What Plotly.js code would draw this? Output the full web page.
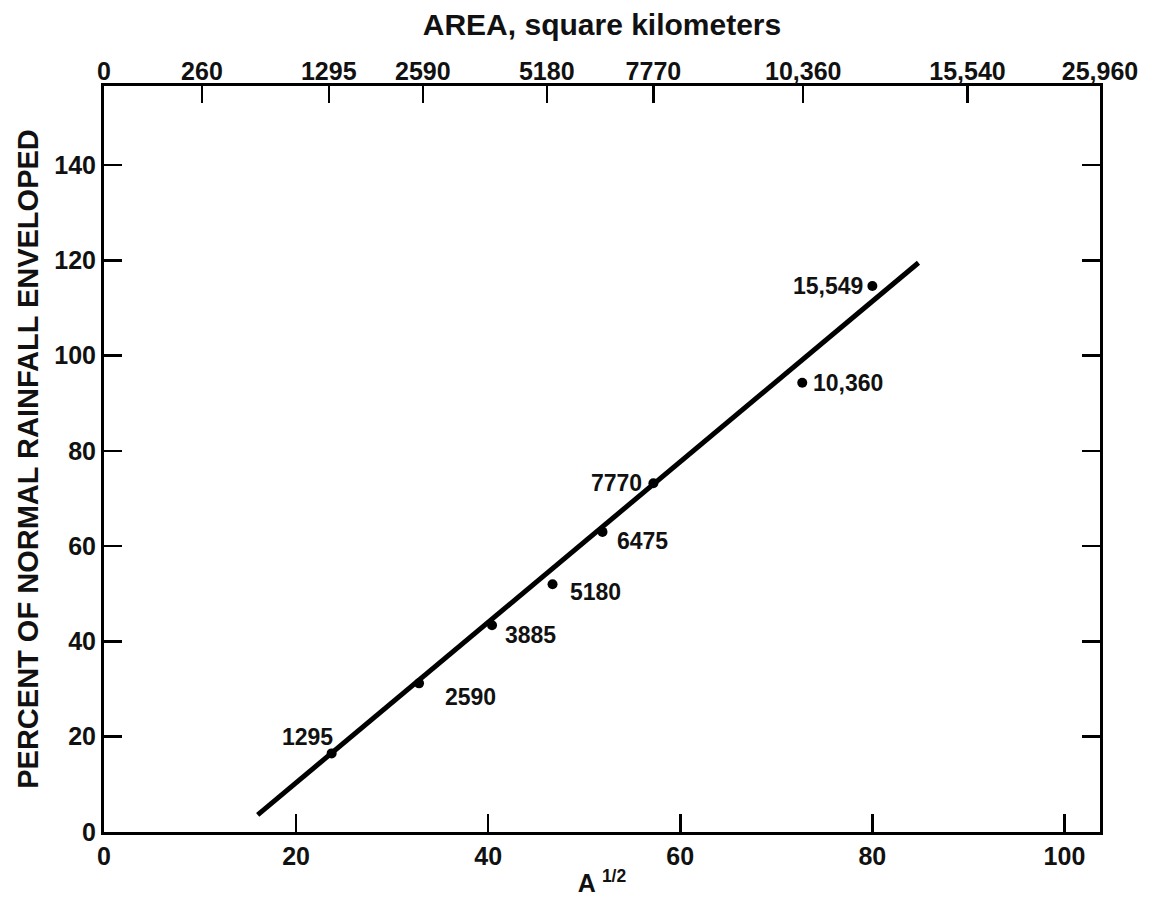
<!DOCTYPE html>
<html>
<head>
<meta charset="utf-8">
<script src="https://cdn.plot.ly/plotly-3.0.1.min.js"></script>
<style>html,body{margin:0;padding:0;background:#fff;}#chart{width:1150px;height:910px;}</style>
</head>
<body>
<div id="chart"></div>
<script>
// ---- data ----
const fitLineX = [16.0, 84.8];
const fitLineY = [3.6, 119.5];
const pointX = [23.7, 32.8, 40.4, 46.7, 51.9, 57.2, 72.7, 80.0];
const pointY = [16.5, 31.2, 43.4, 52.0, 63.0, 73.2, 94.3, 114.6];
const pointLabels = ['1295', '2590', '3885', '5180', '6475', '7770', '10,360', '15,549'];
const topTickVals = [0, 10.2, 23.4, 33.2, 46.1, 57.2, 72.8, 89.9, 103.7];
const topTickText = ['0', '260', '1295', '2590', '5180', '7770', '10,360', '15,540', '25,960'];
const bottomTickVals = [0, 20, 40, 60, 80, 100];
const leftTickVals = [0, 20, 40, 60, 80, 100, 120, 140];

// ---- label placement (style) ----
const labelPlacement = [
  {anchor: 'right', dx: 3, dy: 16},
  {anchor: 'left', dx: 24, dy: -14},
  {anchor: 'left', dx: 11, dy: -10},
  {anchor: 'left', dx: 15, dy: -8},
  {anchor: 'left', dx: 13, dy: -9},
  {anchor: 'right', dx: -9, dy: 0},
  {anchor: 'left', dx: 9, dy: 0},
  {anchor: 'right', dx: -7, dy: 0}
];

const FONT = 'Liberation Sans, Arial, Helvetica, sans-serif';
const XR = [0, 103.7];
const YR = [0, 156.6];

const traces = [
  {x: fitLineX, y: fitLineY, mode: 'lines', type: 'scatter',
   line: {color: '#000', width: 5}, hoverinfo: 'skip', showlegend: false},
  {x: pointX, y: pointY, mode: 'markers', type: 'scatter',
   marker: {color: '#000', size: 10}, showlegend: false},
  {x: XR, y: [null, null], xaxis: 'x2', yaxis: 'y', mode: 'lines', showlegend: false, hoverinfo: 'skip'}
];

const annotations = pointLabels.map((t, i) => ({
  x: pointX[i], y: pointY[i], xref: 'x', yref: 'y', text: '<b>' + t + '</b>', showarrow: false,
  xanchor: labelPlacement[i].anchor, yanchor: 'middle',
  xshift: labelPlacement[i].dx, yshift: labelPlacement[i].dy,
  font: {family: FONT, size: 23, color: '#111'}
}));

const tickFont = {family: FONT, size: 25, color: '#111', weight: 'bold'};

const layout = {
  width: 1150, height: 910,
  margin: {l: 104, r: 50, t: 86, b: 78, pad: 0},
  paper_bgcolor: '#fff', plot_bgcolor: '#fff',
  showlegend: false,
  font: {family: FONT, color: '#111', size: 25},
  xaxis: {
    range: XR, tickvals: bottomTickVals, ticktext: bottomTickVals.map(String),
    ticks: 'inside', ticklen: 18, tickwidth: 2.5, tickcolor: '#000',
    showline: true, linewidth: 3, linecolor: '#000', mirror: true,
    showgrid: false, zeroline: false,
    tickfont: tickFont,
    title: {text: '<b>A <sup>1/2</sup></b>', font: {family: FONT, size: 25, color: '#111'}, standoff: 6}
  },
  xaxis2: {
    range: XR, overlaying: 'x', side: 'top', anchor: 'y',
    tickvals: topTickVals, ticktext: topTickText,
    ticks: 'inside', ticklen: 17, tickwidth: 2.5, tickcolor: '#000',
    showline: false, showgrid: false, zeroline: false,
    tickfont: tickFont,
    title: {text: '<b>AREA, square kilometers</b>', font: {family: FONT, size: 30, color: '#111'}, standoff: 12}
  },
  yaxis: {
    range: YR, tickvals: leftTickVals, ticktext: leftTickVals.map(String),
    ticks: 'inside', ticklen: 18, tickwidth: 2.5, tickcolor: '#000',
    showline: true, linewidth: 3, linecolor: '#000', mirror: 'ticks',
    showgrid: false, zeroline: false,
    tickfont: tickFont,
    title: {text: '<b>PERCENT OF NORMAL RAINFALL ENVELOPED</b>', font: {family: FONT, size: 29, color: '#111'}, standoff: 8}
  },
  annotations: annotations
};

Plotly.newPlot('chart', traces, layout, {displayModeBar: false, staticPlot: true});
</script>
</body>
</html>
